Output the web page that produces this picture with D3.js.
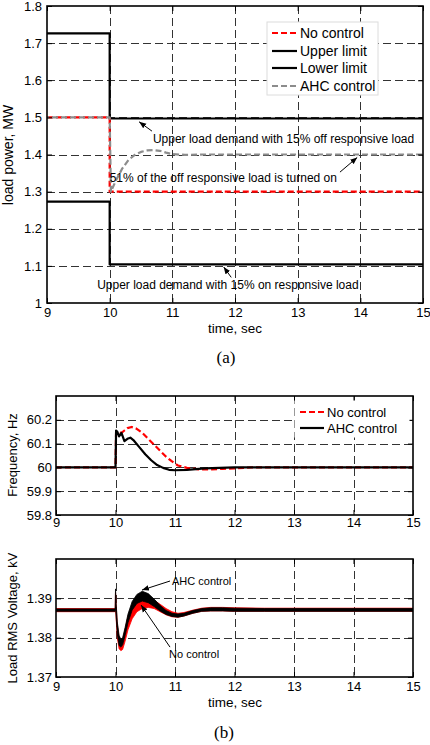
<!DOCTYPE html>
<html>
<head>
<meta charset="utf-8">
<script src="https://cdn.jsdelivr.net/npm/d3@7/dist/d3.min.js"></script>
<style>
  body { margin: 0; background: #fff; }
  svg { display: block; }
  text { font-family: "Liberation Sans", Arial, Helvetica, sans-serif; fill: #000; }
</style>
</head>
<body>
<svg id="fig" width="430" height="745"></svg>
<script>
// ---------- shared time axis ----------
const timeTicks = [9, 10, 11, 12, 13, 14, 15];

// ---------- (a) load power, MW ----------
const powerTicks = [1, 1.1, 1.2, 1.3, 1.4, 1.5, 1.6, 1.7, 1.8];
const stepTime = [9, 10, 10, 15];
const upperLimit = [1.726, 1.726, 1.497, 1.497];
const lowerLimit = [1.273, 1.273, 1.104, 1.104];
const noControlPower = [1.5, 1.5, 1.3, 1.3];
const ahcPowerTime = [9, 10, 10.02, 10.1, 10.2, 10.3, 10.4, 10.5, 10.6, 10.7, 10.8, 10.9, 11.0, 11.2, 11.5, 15];
const ahcPower = [1.5, 1.5, 1.3, 1.33, 1.362, 1.385, 1.399, 1.407, 1.411, 1.412, 1.410, 1.405, 1.401, 1.399, 1.4, 1.4];

// ---------- (b) frequency, Hz ----------
const freqTicks = [59.8, 59.9, 60, 60.1, 60.2];
const noControlFreqTime = [9, 10, 10.01, 10.05, 10.1, 10.15, 10.2, 10.27, 10.35, 10.45, 10.55, 10.65, 10.75, 10.85, 10.95, 11.05, 11.2, 11.4, 11.6, 11.8, 12.0, 12.3, 15];
const noControlFreq = [60, 60, 60.15, 60.148, 60.145, 60.155, 60.165, 60.17, 60.163, 60.145, 60.12, 60.095, 60.07, 60.045, 60.025, 60.008, 59.998, 59.992, 59.992, 59.994, 59.996, 60.0, 60.0];
const ahcFreqTime = [9, 10, 10.01, 10.03, 10.06, 10.1, 10.15, 10.2, 10.25, 10.3, 10.4, 10.5, 10.6, 10.7, 10.8, 10.9, 11.0, 11.2, 11.5, 12, 15];
const ahcFreq = [60, 60, 60.155, 60.15, 60.13, 60.145, 60.11, 60.12, 60.125, 60.115, 60.085, 60.055, 60.03, 60.01, 59.998, 59.99, 59.988, 59.99, 59.996, 60, 60];

// ---------- (b) load RMS voltage, kV (oscillation envelopes) ----------
const voltTicks = [1.37, 1.38, 1.39];
const voltTime = [9, 9.995, 10.0, 10.01, 10.03, 10.06, 10.09, 10.12, 10.16, 10.21, 10.28, 10.36, 10.45, 10.55, 10.65, 10.75, 10.85, 10.95, 11.05, 11.15, 11.3, 11.45, 11.6, 11.8, 12.0, 12.5, 15];
const noControlVoltLow = [1.3866, 1.3866, 1.3875, 1.3850, 1.3800, 1.3772, 1.3767, 1.3770, 1.3790, 1.3820, 1.3848, 1.3866, 1.3874, 1.3877, 1.3874, 1.3866, 1.3858, 1.3853, 1.3852, 1.3855, 1.3862, 1.3867, 1.3868, 1.3868, 1.3867, 1.3867, 1.3867];
const noControlVoltHigh = [1.3874, 1.3874, 1.3915, 1.3885, 1.3835, 1.3800, 1.3790, 1.3795, 1.3820, 1.3855, 1.3882, 1.3895, 1.3900, 1.3900, 1.3895, 1.3885, 1.3874, 1.3866, 1.3862, 1.3864, 1.3870, 1.3875, 1.3877, 1.3877, 1.3876, 1.3875, 1.3875];
const ahcVoltLow = [1.3867, 1.3867, 1.3878, 1.3855, 1.3810, 1.3780, 1.3776, 1.3782, 1.3805, 1.3838, 1.3870, 1.3887, 1.3893, 1.3889, 1.3879, 1.3868, 1.3859, 1.3854, 1.3852, 1.3855, 1.3862, 1.3867, 1.3868, 1.3868, 1.3867, 1.3867, 1.3867];
const ahcVoltHigh = [1.3873, 1.3873, 1.3924, 1.3890, 1.3840, 1.3806, 1.3796, 1.3800, 1.3825, 1.3860, 1.3892, 1.3910, 1.3918, 1.3912, 1.3898, 1.3882, 1.3869, 1.3862, 1.3860, 1.3862, 1.3869, 1.3874, 1.3876, 1.3876, 1.3875, 1.3874, 1.3874];

// ---------- drawing ----------
const svg = d3.select("#fig");
const RED = "#ff0000", GRAY = "#8c8c8c";

svg.append("defs").append("marker")
  .attr("id", "arrow").attr("viewBox", "0 0 10 10")
  .attr("refX", 10).attr("refY", 5)
  .attr("markerWidth", 7).attr("markerHeight", 7)
  .attr("markerUnits", "userSpaceOnUse")
  .attr("orient", "auto")
  .append("path").attr("d", "M0,1 L10,5 L0,9 Z").attr("fill", "#000");

let clipCount = 0;
function panel(box, yDomain, yTicks, yFmt, opts) {
  const x = d3.scaleLinear().domain([9, 15]).range([box.left, box.right]);
  const y = d3.scaleLinear().domain(yDomain).range([box.bottom, box.top]);
  const g = svg.append("g");
  const id = "clip" + (clipCount++);
  svg.select("defs").append("clipPath").attr("id", id)
    .append("rect").attr("x", box.left).attr("y", box.top)
    .attr("width", box.right - box.left).attr("height", box.bottom - box.top);

  // dashed grid
  const grid = g.append("g").attr("stroke", "#333").attr("stroke-width", 1)
    .attr("stroke-dasharray", "8,4");
  timeTicks.filter(t => t > 9 && t < 15).forEach(t => {
    grid.append("line").attr("x1", Math.round(x(t)) + 0.5).attr("x2", Math.round(x(t)) + 0.5)
      .attr("y1", box.top).attr("y2", box.bottom);
  });
  yTicks.filter(v => v > yDomain[0] && v < yDomain[1]).forEach(v => {
    grid.append("line").attr("y1", Math.round(y(v)) + 0.5).attr("y2", Math.round(y(v)) + 0.5)
      .attr("x1", box.left).attr("x2", box.right);
  });

  const plot = g.append("g").attr("clip-path", `url(#${id})`);

  // axes with inward ticks on all four sides
  const axB = d3.axisBottom(x).tickValues(timeTicks).tickSize(-5).tickPadding(opts.xPad).tickFormat(d3.format("d"));
  const axT = d3.axisTop(x).tickValues(timeTicks).tickSize(-5).tickFormat("");
  const axL = d3.axisLeft(y).tickValues(yTicks).tickSize(-5).tickPadding(opts.yPad).tickFormat(yFmt);
  const axR = d3.axisRight(y).tickValues(yTicks).tickSize(-5).tickFormat("");
  const axes = g.append("g");
  function styleAxis(sel) {
    sel.select(".domain").remove();
    sel.selectAll(".tick line").attr("stroke", "#000").attr("stroke-width", 1);
    sel.selectAll(".tick text").attr("font-size", opts.tickSize).attr("fill", "#000")
      .attr("font-family", '"Liberation Sans", Arial, sans-serif');
  }
  axes.append("g").attr("transform", `translate(0,${box.bottom})`).call(axB).call(styleAxis);
  axes.append("g").attr("transform", `translate(0,${box.top})`).call(axT).call(styleAxis);
  axes.append("g").attr("transform", `translate(${box.left},0)`).call(axL).call(styleAxis);
  axes.append("g").attr("transform", `translate(${box.right},0)`).call(axR).call(styleAxis);

  return { x, y, g, plot, axes, box };
}

function frame(p) {
  p.g.append("rect").attr("x", p.box.left).attr("y", p.box.top)
    .attr("width", p.box.right - p.box.left).attr("height", p.box.bottom - p.box.top)
    .attr("fill", "none").attr("stroke", "#000").attr("stroke-width", 1.6);
}

function pathLine(p, ts, vs, color, width, dash) {
  const line = d3.line().x(d => p.x(d[0])).y(d => p.y(d[1]));
  return p.plot.append("path").datum(ts.map((t, i) => [t, vs[i]]))
    .attr("d", line).attr("fill", "none").attr("stroke", color)
    .attr("stroke-width", width).attr("stroke-dasharray", dash || null)
    .attr("stroke-linejoin", "round");
}

function band(p, ts, lo, hi, color) {
  const area = d3.area().x(d => p.x(d[0])).y0(d => p.y(d[1])).y1(d => p.y(d[2]));
  p.plot.append("path").datum(ts.map((t, i) => [t, lo[i], hi[i]]))
    .attr("d", area).attr("fill", color).attr("stroke", color).attr("stroke-width", 0.8)
    .attr("stroke-linejoin", "round");
}

function arrow(p, t0, v0, t1, v1) {
  p.g.append("line").attr("x1", p.x(t0)).attr("y1", p.y(v0))
    .attr("x2", p.x(t1)).attr("y2", p.y(v1))
    .attr("stroke", "#000").attr("stroke-width", 1).attr("marker-end", "url(#arrow)");
}

function note(p, t, v, txt, size) {
  p.g.append("text").attr("x", p.x(t)).attr("y", p.y(v))
    .attr("font-size", size).text(txt);
}

function yLabel(cx, cy, txt, size) {
  svg.append("text").attr("transform", `translate(${cx},${cy}) rotate(-90)`)
    .attr("text-anchor", "middle").attr("font-size", size).text(txt);
}

function xLabel(cx, by, txt, size) {
  svg.append("text").attr("x", cx).attr("y", by).attr("text-anchor", "middle")
    .attr("font-size", size).text(txt);
}

function caption(cx, by, txt) {
  svg.append("text").attr("x", cx).attr("y", by).attr("text-anchor", "middle")
    .attr("font-size", 17).attr("font-family", '"Liberation Serif", "Times New Roman", serif')
    .style("font-family", '"Liberation Serif", "Times New Roman", serif').text(txt);
}

function legend(p, box, entries, size, sampleX0, sampleX1, textX, stroke) {
  const lg = p.g.append("g");
  lg.append("rect").attr("x", box.x).attr("y", box.y).attr("width", box.w).attr("height", box.h)
    .attr("fill", "#fff").attr("stroke", stroke);
  entries.forEach(e => {
    lg.append("line").attr("x1", sampleX0).attr("x2", sampleX1).attr("y1", e.y).attr("y2", e.y)
      .attr("stroke", e.color).attr("stroke-width", 2.2).attr("stroke-dasharray", e.dash || null);
    lg.append("text").attr("x", textX).attr("y", e.y + size * 0.36).attr("font-size", size).text(e.label);
  });
}

// ===== (a) =====
const pa = panel({ left: 47, top: 6, right: 423, bottom: 303 }, [1, 1.8], powerTicks,
  v => (v === 1 ? "1" : d3.format(".1f")(v)), { xPad: 5, yPad: 5, tickSize: 13 });
pathLine(pa, stepTime, upperLimit, "#000", 2.2);
pathLine(pa, stepTime, lowerLimit, "#000", 2.2);
pathLine(pa, stepTime, noControlPower, RED, 2.2, "6,3");
pathLine(pa, ahcPowerTime, ahcPower, GRAY, 2.2, "6,3").attr("stroke-dashoffset", 4);
frame(pa);
note(pa, 10.69, 1.432, "Upper load demand with 15% off responsive load", 12);
arrow(pa, 10.675, 1.463, 10.47, 1.488);
note(pa, 10.0, 1.3256, "51% of the off responsive load is turned on", 12);
arrow(pa, 13.675, 1.3525, 13.95, 1.392);
note(pa, 9.8, 1.037, "Upper load demand with 15% on responsive load", 12);
arrow(pa, 11.94, 1.069, 11.82, 1.097);
legend(pa, { x: 267, y: 22, w: 111, h: 73 }, [
  { y: 33, color: RED, dash: "6,3", label: "No control" },
  { y: 51, color: "#000", label: "Upper limit" },
  { y: 68, color: "#000", label: "Lower limit" },
  { y: 86, color: GRAY, dash: "6,3", label: "AHC control" }
], 14, 272, 297, 300, "#dcdcdc");
yLabel(13, 155, "load power, MW", 14);
xLabel(235, 333, "time, sec", 13.5);
caption(226, 363, "(a)");

// ===== (b) frequency =====
const pf = panel({ left: 56, top: 396, right: 413, bottom: 515 }, [59.8, 60.3], freqTicks,
  v => (v === 60 ? "60" : d3.format(".1f")(v)), { xPad: 3, yPad: 4, tickSize: 13 });
pathLine(pf, noControlFreqTime, noControlFreq, RED, 2.2, "6,3");
pathLine(pf, ahcFreqTime, ahcFreq, "#000", 2.2);
legend(pf, { x: 295, y: 401, w: 114, h: 36 }, [
  { y: 412, color: RED, dash: "6,3", label: "No control" },
  { y: 428, color: "#000", label: "AHC control" }
], 13, 300, 324, 327, "#fff");
frame(pf);
yLabel(17, 455, "Frequency, Hz", 13);

// ===== (b) voltage =====
const pv = panel({ left: 56, top: 559, right: 413, bottom: 677 }, [1.37, 1.40], voltTicks,
  d3.format(".2f"), { xPad: 5, yPad: 4, tickSize: 13 });
band(pv, voltTime, noControlVoltLow, noControlVoltHigh, RED);
band(pv, voltTime, ahcVoltLow, ahcVoltHigh, "#000");
frame(pv);
note(pv, 10.95, 1.3934, "AHC control", 11);
arrow(pv, 10.916, 1.3944, 10.445, 1.3921);
note(pv, 10.9, 1.3748, "No control", 11);
arrow(pv, 10.916, 1.3776, 10.43, 1.3883);
yLabel(17, 618, "Load RMS Voltage, kV", 13);
xLabel(235, 707, "time, sec", 13.5);
caption(224, 738, "(b)");
</script>
</body>
</html>
